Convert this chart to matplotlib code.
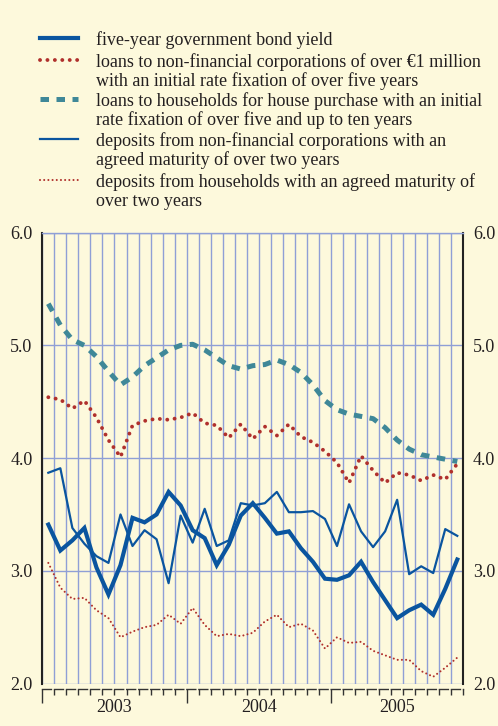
import matplotlib
matplotlib.use("Agg")
import matplotlib.pyplot as plt
from matplotlib.lines import Line2D
import matplotlib.transforms as mtransforms
import numpy as np

plt.rcParams['font.family'] = ['Liberation Serif', 'DejaVu Serif']

# ---- data (monthly, Jan 2003 - Nov 2005) ----
months = list(range(35))
bond_yield = [3.41, 3.18, 3.27, 3.38, 3.03, 2.79, 3.05, 3.47, 3.43, 3.50, 3.70, 3.58,
              3.36, 3.29, 3.05, 3.23, 3.49, 3.60, 3.47, 3.33, 3.35, 3.20, 3.08, 2.93,
              2.92, 2.96, 3.08, 2.90, 2.74, 2.58, 2.65, 2.70, 2.61, 2.84, 3.10]
loans_nfc = [4.54, 4.52, 4.44, 4.51, 4.36, 4.16, 4.01, 4.29, 4.33, 4.35, 4.34, 4.36,
             4.40, 4.31, 4.29, 4.18, 4.30, 4.17, 4.28, 4.20, 4.30, 4.19, 4.14, 4.06,
             3.96, 3.78, 4.02, 3.89, 3.78, 3.87, 3.85, 3.80, 3.85, 3.81, 3.95]
loans_house = [5.37, 5.18, 5.05, 5.00, 4.90, 4.77, 4.65, 4.72, 4.82, 4.89, 4.96, 5.00,
               5.01, 4.96, 4.89, 4.82, 4.79, 4.82, 4.83, 4.87, 4.83, 4.76, 4.65, 4.51,
               4.43, 4.39, 4.37, 4.35, 4.27, 4.16, 4.08, 4.03, 4.01, 3.99, 3.97]
dep_nfc = [3.87, 3.91, 3.38, 3.24, 3.13, 3.07, 3.50, 3.22, 3.36, 3.28, 2.89, 3.49,
           3.25, 3.55, 3.22, 3.27, 3.60, 3.58, 3.60, 3.70, 3.52, 3.52, 3.53, 3.46,
           3.22, 3.59, 3.35, 3.21, 3.35, 3.63, 2.97, 3.04, 2.98, 3.37, 3.31]
dep_hh = [3.07, 2.85, 2.75, 2.76, 2.65, 2.58, 2.41, 2.46, 2.50, 2.52, 2.61, 2.53,
          2.67, 2.52, 2.42, 2.44, 2.42, 2.45, 2.55, 2.61, 2.50, 2.53, 2.47, 2.31,
          2.41, 2.36, 2.37, 2.29, 2.25, 2.21, 2.21, 2.11, 2.06, 2.14, 2.23]
years = ['2003', '2004', '2005']
year_starts = [0, 12, 24]
yticks = [2.0, 3.0, 4.0, 5.0, 6.0]
legend_labels = [
    ["five-year government bond yield"],
    ["loans to non-financial corporations of over \u20ac1 million",
     "with an initial rate fixation of over five years"],
    ["loans to households for house purchase with an initial",
     "rate fixation of over five and up to ten years"],
    ["deposits from non-financial corporations with an",
     "agreed maturity of over two years"],
    ["deposits from households with an agreed maturity of",
     "over two years"],
]

BG = '#fdf9dc'
BLUE = '#0a559f'
RED = '#b0302c'
TEAL = '#3f8898'
GRID = '#8f9fd6'
TXT = '#231f20'
FS = 13

W, H = 498, 726
fig = plt.figure(figsize=(W / 100, H / 100), dpi=100, facecolor=BG)
ax = fig.add_axes([42.3 / W, 1 - 683.5 / H, (463.3 - 42.3) / W, (683.5 - 232.7) / H])
ax.set_facecolor(BG)

x = np.array(months) + 0.5
n_months = 35

styles = [
    dict(color=BLUE, lw=3.0, solid_joinstyle='miter'),
    dict(color=RED, lw=2.8, linestyle=(0, (0.01, 1.9)), dash_capstyle='round'),
    dict(color=TEAL, lw=3.6, linestyle=(0, (1.7, 1.5))),
    dict(color=BLUE, lw=1.6),
    dict(color=RED, lw=1.5, linestyle=(0, (0.01, 2.0)), dash_capstyle='round'),
]
series = [bond_yield, loans_nfc, loans_house, dep_nfc, dep_hh]
order = [2, 1, 4, 3, 0]
for k in order:
    ax.plot(x, series[k], zorder=3 + (k == 0), **styles[k])

ax.set_xlim(0, n_months)
ax.set_ylim(2.0, 6.0)

# grid
ax.set_xticks(year_starts)
ax.set_xticks(range(0, n_months + 1), minor=True)
ax.grid(True, which='both', axis='x', color=GRID, lw=1.0, zorder=1)
ax.set_yticks(yticks)
ax.grid(True, which='major', axis='y', color=GRID, lw=1.0, zorder=1)
ax.set_axisbelow(True)
ax.set_xticklabels([])

ax.tick_params(axis='x', which='major', direction='out', length=10, width=1.0, color='#333333')
ax.tick_params(axis='x', which='minor', direction='out', length=4, width=1.0, color='#333333')
ax.tick_params(axis='y', which='both', length=0, labelsize=FS, labelcolor=TXT,
               left=True, right=True, labelleft=True, labelright=True, pad=7)
ax.set_yticklabels([f"{v:.1f}" for v in yticks])

for s in ['left', 'right']:
    ax.spines[s].set_color('#222222')
    ax.spines[s].set_linewidth(1.5)
ax.spines['top'].set_color(GRID)
ax.spines['top'].set_linewidth(1.0)
ax.spines['bottom'].set_position(('outward', 4))
ax.spines['bottom'].set_color('#333333')
ax.spines['bottom'].set_linewidth(1.0)
# broken "Γ" style baseline: one segment per month with a small gap
month_pt = (463.3 - 42.3) / n_months * 0.72
ax.spines['bottom'].set_linestyle((0, (month_pt - 2.2, 2.2)))

# year labels
trans = mtransforms.blended_transform_factory(ax.transData, ax.transAxes)
ends = year_starts[1:] + [n_months]
for lab, s, e in zip(years, year_starts, ends):
    ax.text((s + e) / 2, -0.035, lab, transform=trans, ha='center', va='top',
            fontsize=FS, color=TXT)

# legend (manual, in pixel coordinates)
row_y = [38, 60, 99, 139, 180]
line_h = 19.5
for k, (lbls, ry) in enumerate(zip(legend_labels, row_y)):
    st = dict(styles[k])
    fig.add_artist(Line2D([40 / W, 78 / W], [1 - ry / H, 1 - ry / H],
                          transform=fig.transFigure, **st))
    for j, t in enumerate(lbls):
        fig.text(96 / W, 1 - (ry + j * line_h) / H, t, ha='left', va='center_baseline',
                 fontsize=FS, color=TXT)

fig.savefig('out.png', dpi=100, facecolor=BG)
